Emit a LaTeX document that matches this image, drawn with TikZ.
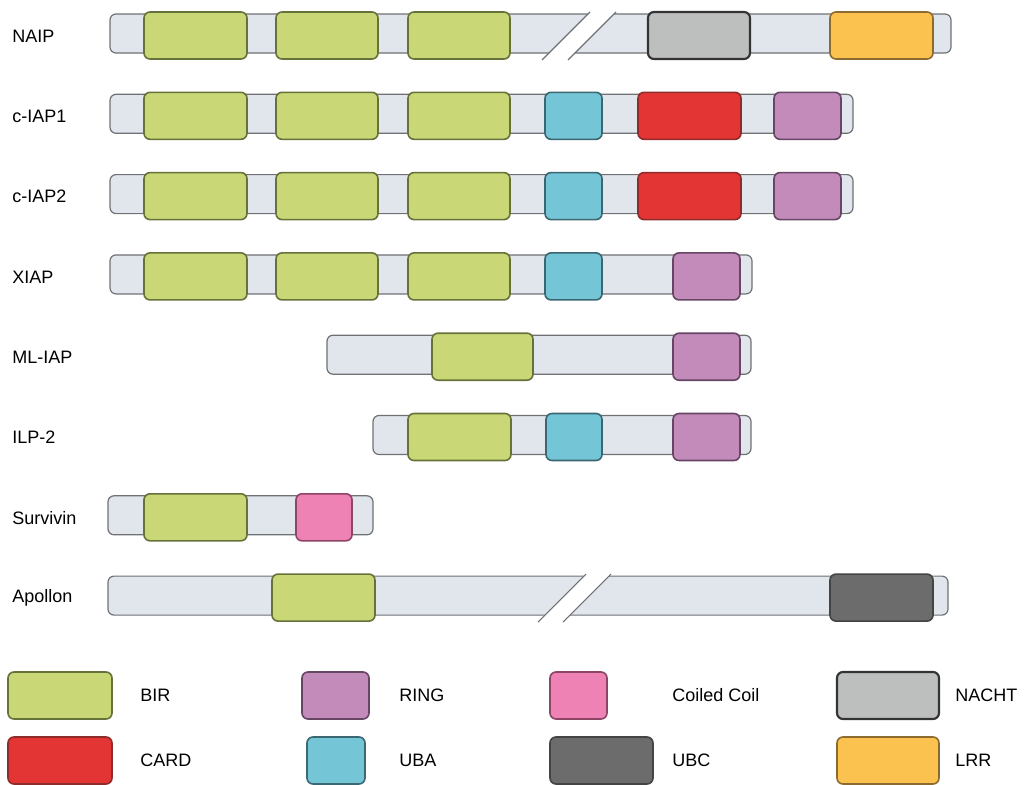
\documentclass[tikz,border=0pt]{standalone}
\usepackage{fontspec}
\setmainfont{Liberation Sans}
\usetikzlibrary{positioning}

\definecolor{backfill}{HTML}{E1E5EC}
\definecolor{backline}{HTML}{6F7175}
\definecolor{birfill}{HTML}{C9D777}
\definecolor{birline}{HTML}{65723A}
\definecolor{ringfill}{HTML}{C38BBA}
\definecolor{ringline}{HTML}{664565}
\definecolor{ccfill}{HTML}{EE82B5}
\definecolor{ccline}{HTML}{8C4565}
\definecolor{nachtfill}{HTML}{BDBFBF}
\definecolor{nachtline}{HTML}{333333}
\definecolor{cardfill}{HTML}{E43535}
\definecolor{cardline}{HTML}{8E2B2B}
\definecolor{ubafill}{HTML}{74C5D5}
\definecolor{ubaline}{HTML}{3A6772}
\definecolor{ubcfill}{HTML}{6D6C6C}
\definecolor{ubcline}{HTML}{444444}
\definecolor{lrrfill}{HTML}{FBC250}
\definecolor{lrrline}{HTML}{8C6B30}

\tikzset{
    backbone/.style={fill=backfill, draw=backline, line width=0.9pt, rounded corners=4.5pt},
    domainbox/.style={line width=1.2pt, rounded corners=4.5pt},
    bir/.style={domainbox, fill=birfill, draw=birline},
    ringbox/.style={domainbox, fill=ringfill, draw=ringline},
    coilbox/.style={domainbox, fill=ccfill, draw=ccline},
    nacht/.style={domainbox, fill=nachtfill, draw=nachtline, line width=1.6pt},
    cardbox/.style={domainbox, fill=cardfill, draw=cardline},
    uba/.style={domainbox, fill=ubafill, draw=ubaline},
    ubc/.style={domainbox, fill=ubcfill, draw=ubcline},
    lrr/.style={domainbox, fill=lrrfill, draw=lrrline},
    slashline/.style={draw=backline, line width=0.9pt},
    protname/.style={anchor=west, inner sep=0pt, font=\fontsize{13.5}{16}\selectfont},
    legname/.style={anchor=west, inner sep=0pt, font=\fontsize{13.5}{16}\selectfont},
}

% bar: top, x start, x end
\newcommand{\protbar}[3]{\filldraw[backbone] (#2,#1+2) rectangle (#3,#1+41);}
% domain: style, top, x start, x end
\newcommand{\dom}[4]{\filldraw[#1] (#3,#2) rectangle (#4,#2+47);}
% break in the bar: top, x of first slash foot, gap width
\newcommand{\cutbar}[3]{
    \fill[white] (#2,#1+48) --++(48,-48) --++(#3,0) --++(-48,48) -- cycle;
    \draw[slashline] (#2,#1+48) --++(48,-48);
    \draw[slashline] (#2+#3,#1+48) --++(48,-48);
}

\begin{document}
\begin{tikzpicture}[x=0.75pt, y=-0.75pt]
    \useasboundingbox (0,0) rectangle (1028,785);

    % protein names
    \foreach \lab [count=\i from 0] in {NAIP,c-IAP1,c-IAP2,XIAP,ML-IAP,ILP-2,Survivin,Apollon}{
            \node[protname] (name\i) at (12,{12+80.3*\i+24}) {\lab};
        }

    % NAIP
    \pgfmathsetmacro\rowtop{12}
    \protbar{\rowtop}{110}{951}
    \cutbar{\rowtop}{542}{26}
    \foreach \a/\b in {144/247,276/378,408/510}{\dom{bir}{\rowtop}{\a}{\b}}
    \dom{nacht}{\rowtop}{648}{750}
    \dom{lrr}{\rowtop}{830}{933}

    % c-IAP1 and c-IAP2
    \foreach \k in {1,2}{
            \pgfmathsetmacro\rowtop{12+80.3*\k}
            \protbar{\rowtop}{110}{853}
            \foreach \a/\b in {144/247,276/378,408/510}{\dom{bir}{\rowtop}{\a}{\b}}
            \dom{uba}{\rowtop}{545}{602}
            \dom{cardbox}{\rowtop}{638}{741}
            \dom{ringbox}{\rowtop}{774}{841}
        }

    % XIAP
    \pgfmathsetmacro\rowtop{12+80.3*3}
    \protbar{\rowtop}{110}{752}
    \foreach \a/\b in {144/247,276/378,408/510}{\dom{bir}{\rowtop}{\a}{\b}}
    \dom{uba}{\rowtop}{545}{602}
    \dom{ringbox}{\rowtop}{673}{740}

    % ML-IAP
    \pgfmathsetmacro\rowtop{12+80.3*4}
    \protbar{\rowtop}{327}{751}
    \dom{bir}{\rowtop}{432}{533}
    \dom{ringbox}{\rowtop}{673}{740}

    % ILP-2
    \pgfmathsetmacro\rowtop{12+80.3*5}
    \protbar{\rowtop}{373}{751}
    \dom{bir}{\rowtop}{408}{511}
    \dom{uba}{\rowtop}{546}{602}
    \dom{ringbox}{\rowtop}{673}{740}

    % Survivin
    \pgfmathsetmacro\rowtop{12+80.3*6}
    \protbar{\rowtop}{108}{373}
    \dom{bir}{\rowtop}{144}{247}
    \dom{coilbox}{\rowtop}{296}{352}

    % Apollon
    \pgfmathsetmacro\rowtop{12+80.3*7}
    \protbar{\rowtop}{108}{948}
    \cutbar{\rowtop}{538}{25}
    \dom{bir}{\rowtop}{272}{375}
    \dom{ubc}{\rowtop}{830}{933}

    % legend
    \dom{bir}{672}{8}{112}        \node[legname] (lbir) at (140,695.5) {BIR};
    \dom{ringbox}{672}{302}{369}  \node[legname] (lring) at (399,695.5) {RING};
    \dom{coilbox}{672}{550}{607}  \node[legname] (lcoil) at (672,695.5) {Coiled Coil};
    \dom{nacht}{672}{837}{939}    \node[legname] (lnacht) at (955,695.5) {NACHT};
    \dom{cardbox}{737}{8}{112}    \node[legname] (lcard) at (140,760.5) {CARD};
    \dom{uba}{737}{307}{365}      \node[legname] (luba) at (399,760.5) {UBA};
    \dom{ubc}{737}{550}{653}      \node[legname] (lubc) at (672,760.5) {UBC};
    \dom{lrr}{737}{837}{939}      \node[legname] (llrr) at (955,760.5) {LRR};
\end{tikzpicture}
\end{document}
